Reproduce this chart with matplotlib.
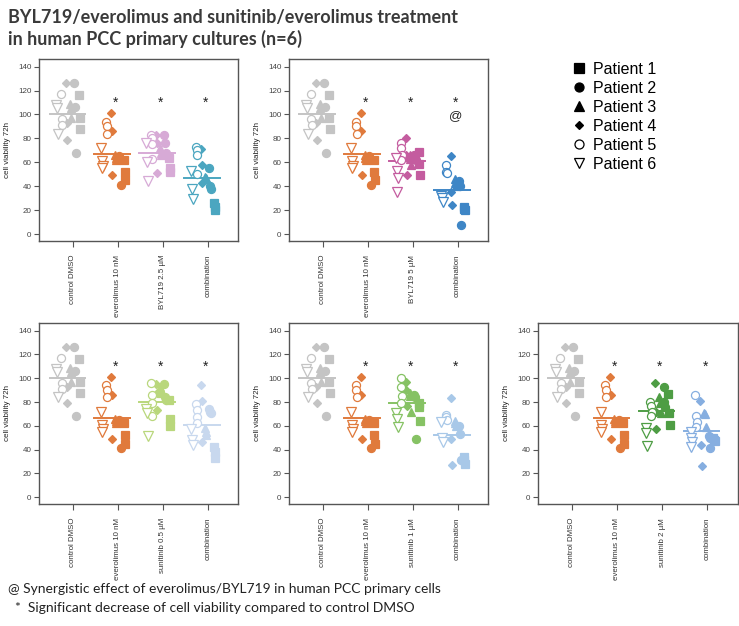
import matplotlib
matplotlib.use('Agg')
import matplotlib.pyplot as plt
from matplotlib.lines import Line2D

plt.rcParams['font.family'] = ['Liberation Sans', 'DejaVu Sans']

# cell viability (% of control) per patient, order: patient 1..6
control_dmso = [[116, 97, 88], [126, 106, 68], [109, 105, 97],
                [126, 93, 79], [117, 96, 91], [108, 105, 84]]
everolimus_10 = [[62, 52, 45], [65, 63, 41], [66, 64, 62],
                 [101, 86, 49], [94, 90, 84], [72, 61, 57, 55]]

byl_25 = [[64, 55, 52], [83, 76, 68], [72, 68, 66],
          [83, 76, 51], [83, 80, 75, 63], [76, 60, 44]]
comb_byl_25 = [[26, 23, 20], [55, 40, 38], [48, 47, 46],
               [71, 58, 43], [73, 70, 66, 50], [53, 38, 29]]

byl_5 = [[69, 59, 49], [66, 64, 62], [66, 63, 58],
         [80, 66, 49], [76, 72, 66, 62], [64, 53, 47, 35]]
comb_byl_5 = [[23, 21, 20], [44, 40, 8], [46, 43, 40],
              [65, 35, 24], [58, 52, 51], [32, 30, 27]]

sun_05 = [[82, 66, 60], [95, 84, 82], [93, 90, 88],
          [95, 88, 73], [96, 86, 79, 68], [74, 71, 51]]
comb_sun_05 = [[42, 38, 33], [74, 72, 71], [58, 55, 52],
               [94, 81, 46], [78, 73, 67, 62], [57, 48, 44]]

sun_1 = [[79, 76, 64], [86, 84, 49], [88, 85, 72],
         [97, 90, 77], [100, 93, 85, 79], [71, 66, 59]]
comb_sun_1 = [[34, 31, 28], [60, 53, 31], [64, 62, 60],
              [83, 49, 27], [69, 67, 65], [63, 50, 46]]

sun_2 = [[87, 71, 61], [93, 80, 76], [84, 79, 71],
         [96, 72, 57], [80, 77, 72, 68], [58, 54, 43]]
comb_sun_2 = [[50, 48, 47], [51, 50, 41], [71, 70, 59],
              [81, 44, 26], [86, 68, 63, 59], [55, 50, 46, 42]]

treatment_labels = ['BYL719 2.5 µM', 'BYL719 5 µM', 'sunitinib 0.5 µM',
                    'sunitinib 1 µM', 'sunitinib 2 µM']
treatments = [byl_25, byl_5, sun_05, sun_1, sun_2]
combinations = [comb_byl_25, comb_byl_5, comb_sun_05, comb_sun_1, comb_sun_2]
treat_colors = ['#d7aad6', '#c45c9f', '#b9d77c', '#86c264', '#4e9d44']
comb_colors = ['#4ba6c0', '#3e86c6', '#c8d8ee', '#a8c8e8', '#86aee0']
synergy = [False, True, False, False, False]

patient_labels = ['Patient 1', 'Patient 2', 'Patient 3',
                  'Patient 4', 'Patient 5', 'Patient 6']
# marker, filled?, size
patient_markers = [('s', True, 5.8), ('o', True, 5.8), ('^', True, 6.3),
                   ('D', True, 3.8), ('o', False, 5.8), ('v', False, 6.8)]
patient_offsets = [0.15, 0.05, -0.05, -0.14, -0.25, -0.35]
rep_offsets = [-0.015, 0.0, 0.015, 0.0]

control_color = '#c4c4c4'
evero_color = '#e07a3c'

# axes positions in figure fraction
positions = [[0.053, 0.615, 0.269, 0.291],
             [0.391, 0.615, 0.269, 0.291],
             [0.053, 0.195, 0.269, 0.289],
             [0.391, 0.195, 0.269, 0.289],
             [0.728, 0.195, 0.270, 0.289]]

fig = plt.figure(figsize=(7.39, 6.26), dpi=100)


def draw_group(ax, xc, data, color):
    allv = []
    for p, vals in enumerate(data):
        m, filled, ms = patient_markers[p]
        for r, v in enumerate(vals):
            ax.plot(xc + patient_offsets[p] + rep_offsets[r], v, marker=m,
                    ms=ms, mfc=color if filled else 'white', mec=color,
                    mew=0.9, ls='none', zorder=3)
            allv.append(v)
    mean = sum(allv) / len(allv)
    ax.plot([xc - 0.52, xc + 0.27], [mean, mean], color=color, lw=1.4,
            zorder=2)


for i in range(5):
    ax = fig.add_axes(positions[i])
    groups = [control_dmso, everolimus_10, treatments[i], combinations[i]]
    colors = [control_color, evero_color, treat_colors[i], comb_colors[i]]
    for k in range(4):
        draw_group(ax, k + 1, groups[k], colors[k])
    for k in range(1, 4):
        ax.text(k + 1 - 0.05, 110, '*', ha='center', va='center',
                fontsize=10, color='#222222')
    if synergy[i]:
        ax.text(4 - 0.05, 99, '@', ha='center', va='center',
                fontsize=9.5, color='#222222')
    ax.set_xlim(0.25, 4.67)
    ax.set_ylim(-5.8, 146.5)
    ax.set_yticks(range(0, 141, 20))
    ax.set_xticks([1, 2, 3, 4])
    ax.set_xticklabels(['control DMSO', 'everolimus 10 nM',
                        treatment_labels[i], 'combination'],
                       rotation=90, fontsize=5.7, color='#333333')
    ax.tick_params(axis='y', labelsize=5.8, labelcolor='#444444',
                   length=3.5, color='#555555', width=0.8, pad=2)
    ax.tick_params(axis='x', length=4, color='#555555', width=0.8, pad=6)
    for s in ax.spines.values():
        s.set_color('#555555')
        s.set_linewidth(1.0)
    ax.set_ylabel('cell viability 72h', fontsize=5.8, color='#222222',
                  labelpad=5)

# legend for patients
handles = []
for m, filled, ms in patient_markers:
    handles.append(Line2D([], [], marker=m, ls='none', ms=ms + 0.7,
                          mfc='black' if filled else 'white', mec='black',
                          mew=0.9))
fig.legend(handles, patient_labels, loc='upper left',
           bbox_to_anchor=(0.751, 0.924), frameon=False, fontsize=11.5,
           handletextpad=0.3, labelspacing=0.25, handlelength=1.2)

fig.text(0.011, 0.985, 'BYL719/everolimus and sunitinib/everolimus treatment\n'
         'in human PCC primary cultures (n=6)', ha='left', va='top',
         fontsize=13, fontweight='bold', color='#3a3a3a',
         family=['Lato', 'DejaVu Sans'], linespacing=1.25)

fig.text(0.011, 0.059, '@ Synergistic effect of everolimus/BYL719 in human PCC primary cells',
         ha='left', va='center', fontsize=10, color='#222222',
         family=['Lato', 'DejaVu Sans'])
fig.text(0.011, 0.029, '  *  Significant decrease of cell viability compared to control DMSO',
         ha='left', va='center', fontsize=10, color='#222222',
         family=['Lato', 'DejaVu Sans'])

fig.savefig('out.png', dpi=100)
